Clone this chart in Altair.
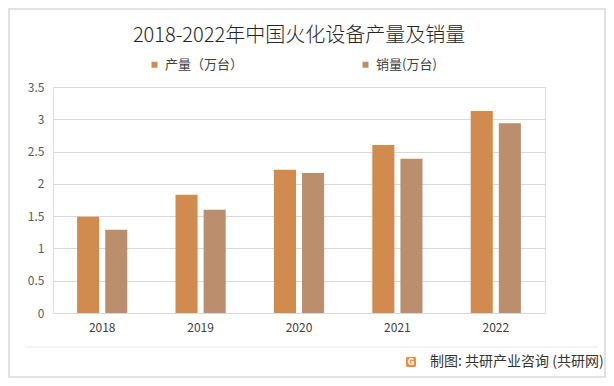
import altair as alt
import pandas as pd

years = ["2018", "2019", "2020", "2021", "2022"]
production = [1.49, 1.83, 2.22, 2.60, 3.13]
sales = [1.29, 1.60, 2.17, 2.39, 2.94]
series = ["产量（万台）", "销量(万台)"]
colors = ["#D28B4E", "#BB8E6E"]
y_ticks = [0, 0.5, 1, 1.5, 2, 2.5, 3, 3.5]
title_text = "2018-2022年中国火化设备产量及销量"
source_text = "制图: 共研产业咨询 (共研网)"

rows = []
for i, yr in enumerate(years):
    rows.append({"year": yr, "series": series[0], "value": production[i]})
    rows.append({"year": yr, "series": series[1], "value": sales[i]})
df = pd.DataFrame(rows)

W, H = 492, 226
PL, PT, PR, PB = 45, 79, 61, 65
FONT = "Noto Sans CJK SC"

bars = alt.Chart(df).mark_bar().encode(
    x=alt.X("year:N", sort=years,
            scale=alt.Scale(paddingInner=0.49, paddingOuter=0.245),
            axis=alt.Axis(title=None, labelAngle=0, ticks=False, domainColor="#d9d9d9",
                          labelPadding=9, labelFontSize=12, labelColor="#404040", labelFont=FONT)),
    xOffset=alt.XOffset("series:N", sort=series,
                        scale=alt.Scale(paddingInner=0.214, paddingOuter=0)),
    y=alt.Y("value:Q", scale=alt.Scale(domain=[0, 3.5], nice=False),
            axis=alt.Axis(title=None, values=y_ticks, labelExpr="'' + datum.value", ticks=False,
                          domain=False, gridColor="#d9d9d9", labelPadding=9, labelFontSize=12,
                          labelColor="#595959", labelFont=FONT)),
    color=alt.Color("series:N", sort=series, scale=alt.Scale(domain=series, range=colors),
                    legend=alt.Legend(title=None, orient="none", legendX=95, legendY=-29,
                                      direction="horizontal", symbolType="square", symbolSize=36,
                                      symbolStrokeWidth=0, columnPadding=115, labelFontSize=13,
                                      labelFont=FONT, labelColor="#404040", labelOffset=4,
                                      padding=0)),
)

one = pd.DataFrame({"a": [0]})

border = alt.Chart(one).mark_rect(fill="transparent", stroke="#d9d9d9", strokeWidth=1.5).encode(
    x=alt.value(-PL + 1), x2=alt.value(W + PR - 1), y=alt.value(-PT + 1), y2=alt.value(H + PB - 1))

sep = alt.Chart(one).mark_rule(color="#e6e6e6", strokeWidth=1).encode(
    x=alt.value(-28), x2=alt.value(545), y=alt.value(260))

title = alt.Chart(pd.DataFrame({"t": [title_text]})).mark_text(
    fontSize=20, font=FONT, fontWeight=300, color="#262626", baseline="middle", align="center").encode(
    text="t:N", x=alt.value(W / 2), y=alt.value(-51))

logo = alt.Chart(one).mark_rect(color="#F08C3A", cornerRadius=1.5).encode(
    x=alt.value(353), x2=alt.value(363), y=alt.value(270), y2=alt.value(280))
logo_g = alt.Chart(pd.DataFrame({"t": ["G"]})).mark_text(
    fontSize=8, fontWeight="bold", color="white", font="DejaVu Sans", baseline="middle").encode(
    text="t:N", x=alt.value(358), y=alt.value(275.5))

source = alt.Chart(pd.DataFrame({"t": [source_text]})).mark_text(
    fontSize=14, font=FONT, color="#333333", align="left", baseline="middle").encode(
    text="t:N", x=alt.value(377), y=alt.value(275))

chart = alt.layer(border, sep, bars, title, logo, logo_g, source).properties(
    width=W, height=H,
    autosize=alt.AutoSizeParams(type="none"),
    padding={"left": PL, "top": PT, "right": PR, "bottom": PB},
).configure_view(stroke=None).configure(background="white")

chart.save("out.html", embed_options={"renderer": "svg", "actions": False})
